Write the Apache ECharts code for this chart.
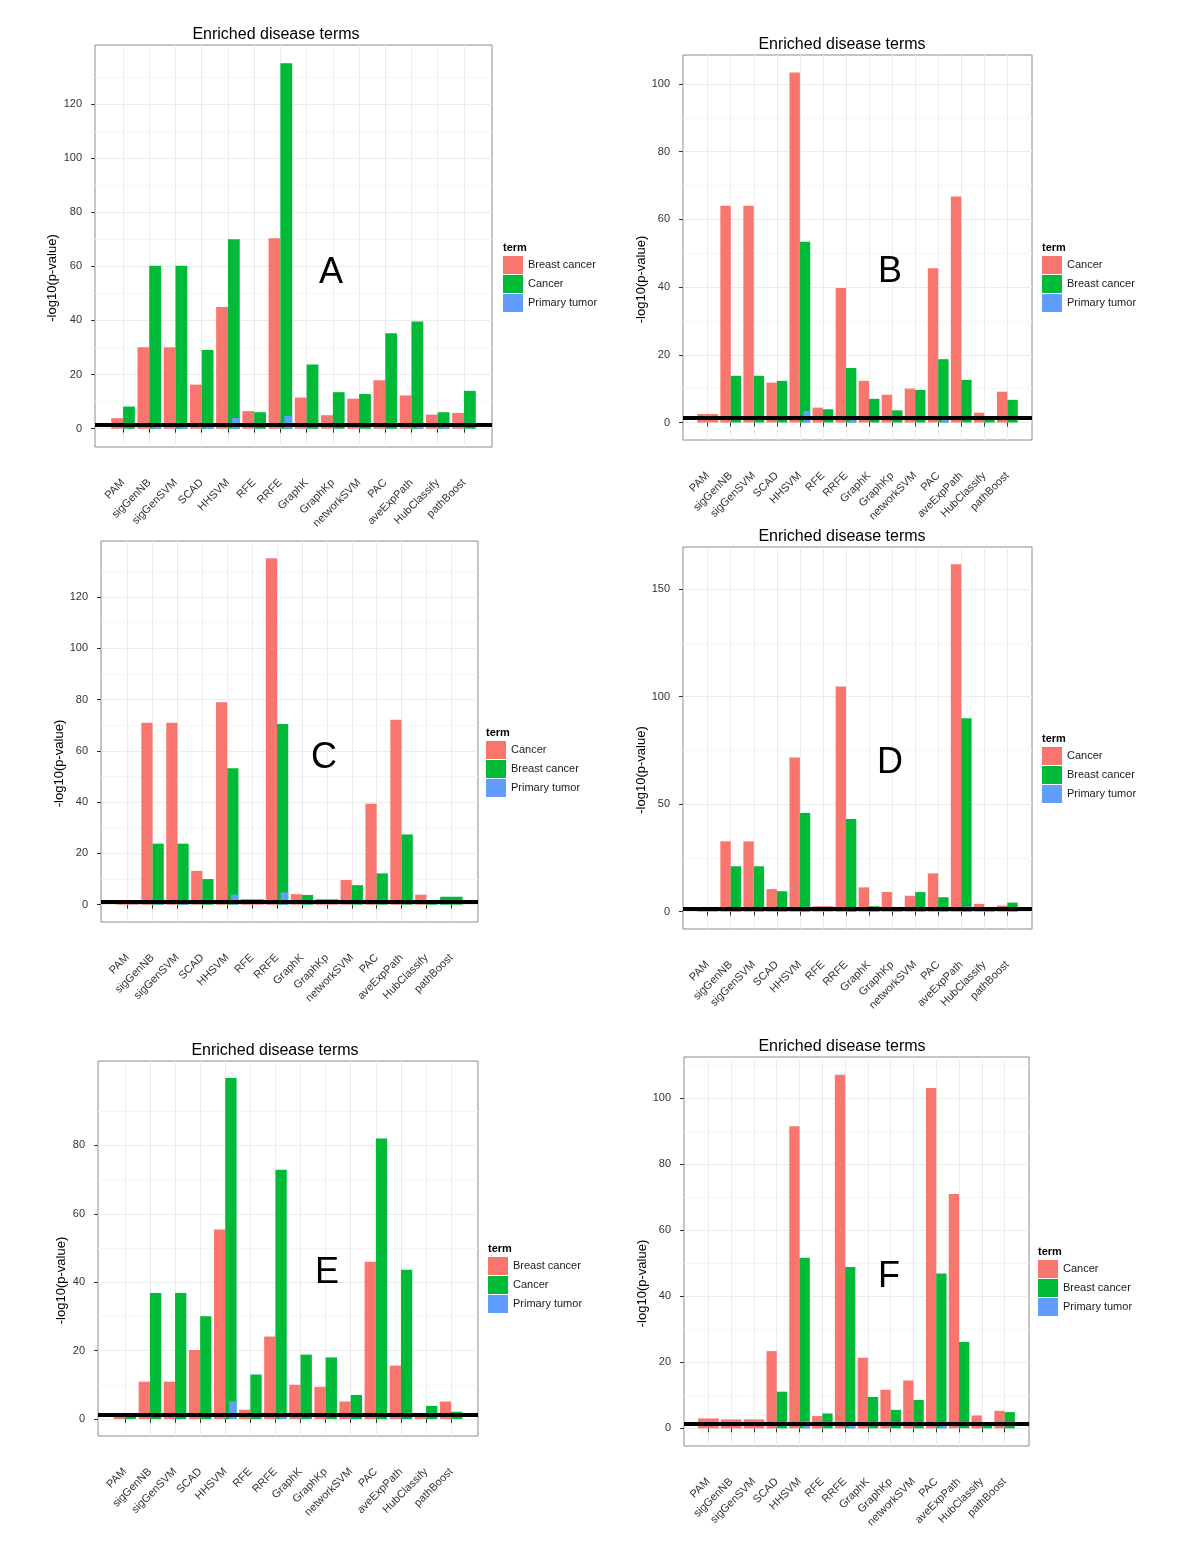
<!DOCTYPE html>
<html><head><meta charset="utf-8">
<script src="https://cdn.jsdelivr.net/npm/echarts@6/dist/echarts.min.js"></script>
<style>html,body{margin:0;padding:0;background:#fff}#c{width:1200px;height:1553px}</style>
</head><body><div id="c"></div>
<script>
// ---------- data ----------
const categories = ['PAM','sigGenNB','sigGenSVM','SCAD','HHSVM','RFE','RRFE','GraphK','GraphKp','networkSVM','PAC','aveExpPath','HubClassify','pathBoost'];
const THRESHOLD = 1.3; // -log10(0.05)
const chartTitle = 'Enriched disease terms';
const yAxisTitle = '-log10(p-value)';
const legendTitle = 'term';

// Panel A  (red = Breast cancer, green = Cancer)
const aTerms = ['Breast cancer','Cancer','Primary tumor'];
const aRed   = [3.9, 30.1, 30.1, 16.3, 45.0, 6.5, 70.4, 11.5, 5.0, 11.1, 17.9, 12.3, 5.2, 5.8];
const aGreen = [8.2, 60.2, 60.2, 29.1, 70.0, 6.1, 135.0, 23.7, 13.5, 12.8, 35.3, 39.6, 6.1, 14.0];
const aBlue  = [0, 2.1, 2.1, 1.2, 3.9, 0, 4.7, 0, 0, 0, 0, 1.2, 2.1, 0];
const aMajor = [0,20,40,60,80,100,120];
const aMinor = [10,30,50,70,90,110,130];

// Panel B  (red = Cancer, green = Breast cancer)
const bTerms = ['Cancer','Breast cancer','Primary tumor'];
const bRed   = [2.5, 64.0, 64.0, 11.8, 103.4, 4.4, 39.7, 12.3, 8.2, 10.0, 45.6, 66.8, 2.9, 9.1];
const bGreen = [null, 13.8, 13.8, 12.3, 53.4, 3.9, 16.1, 7.0, 3.6, 9.6, 18.7, 12.6, 0.8, 6.7];
const bBlue  = [0, 0, 0, 0, 3.4, 0, 1.0, 0, 0, 0, 2.0, 0, 0, 0];
const bMajor = [0,20,40,60,80,100];
const bMinor = [10,30,50,70,90];

// Panel C  (red = Cancer, green = Breast cancer)
const cTerms = ['Cancer','Breast cancer','Primary tumor'];
const cRed   = [0.8, 71.0, 71.0, 13.2, 79.0, 2.2, 135.1, 4.1, 2.2, 9.6, 39.4, 72.1, 3.9, null];
const cGreen = [null, 23.8, 23.8, 10.0, 53.2, null, 70.5, 3.8, null, 7.6, 12.2, 27.4, 1.2, 3.1];
const cBlue  = [0, 0.8, 0.8, 0, 3.9, 0, 4.8, 0, 0, 0, 0, 0, 0, 0];
const cMajor = [0,20,40,60,80,100,120];
const cMinor = [10,30,50,70,90,110,130];

// Panel D  (red = Cancer, green = Breast cancer)
const dTerms = ['Cancer','Breast cancer','Primary tumor'];
const dRed   = [0.6, 32.7, 32.7, 10.5, 71.7, 2.5, 104.8, 11.3, 9.1, 7.4, 17.8, 161.6, 3.6, 2.8];
const dGreen = [null, 21.1, 21.1, 9.5, 45.9, null, 43.1, 2.5, 2.0, 9.1, 6.7, 90.0, 1.1, 4.2];
const dBlue  = [0, 0, 0, 0, 2.3, 0, 0, 0, 0, 0, 0, 2.5, 0, 0];
const dMajor = [0,50,100,150];
const dMinor = [25,75,125];

// Panel E  (red = Breast cancer, green = Cancer)
const eTerms = ['Breast cancer','Cancer','Primary tumor'];
const eRed   = [0.8, 10.9, 10.9, 20.2, 55.4, 2.7, 24.1, 10.0, 9.4, 5.1, 46.0, 15.6, 1.0, 5.1];
const eGreen = [0.8, 36.8, 36.8, 30.0, 99.7, 13.0, 72.9, 18.8, 18.0, 7.0, 82.0, 43.6, 3.8, 2.1];
const eBlue  = [0, 0, 0, 0, 5.2, 0, 1.8, 0, 0, 0, 0, 0, 0, 0];
const eMajor = [0,20,40,60,80];
const eMinor = [10,30,50,70,90];

// Panel F  (red = Cancer, green = Breast cancer)
const fTerms = ['Cancer','Breast cancer','Primary tumor'];
const fRed   = [3.0, 2.7, 2.7, 23.4, 91.6, 3.7, 107.2, 21.4, 11.7, 14.5, 103.2, 71.0, 3.9, 5.3];
const fGreen = [null, null, null, 11.1, 51.7, 4.5, 48.9, 9.5, 5.6, 8.6, 46.9, 26.2, 1.0, 4.9];
const fBlue  = [0, 0, 0, 0, 2.2, 0, 1.0, 0, 0, 0, 1.1, 0, 0, 0];
const fMajor = [0,20,40,60,80,100];
const fMinor = [10,30,50,70,90,110];

// ---------- layout / style ----------
const FONT = "'Liberation Sans', Arial, Helvetica, sans-serif";
const COLORS = ['#F8766D', '#00BA38', '#619CFF'];
const PAD = 1.07; // discrete axis expansion, in category units

const panels = [
  {terms:aTerms, red:aRed, green:aGreen, blue:aBlue, major:aMajor, minor:aMinor, letter:'A', nameGap:36,
   box:{l:95, r:492, t:45, b:447}, title:[276,35], letterPos:[331,273], legendPos:[503,248]},
  {terms:bTerms, red:bRed, green:bGreen, blue:bBlue, major:bMajor, minor:bMinor, letter:'B', nameGap:31,
   box:{l:683, r:1032, t:55, b:440}, title:[842,45], letterPos:[890,272], legendPos:[1042,248]},
  {terms:cTerms, red:cRed, green:cGreen, blue:cBlue, major:cMajor, minor:cMinor, letter:'C', nameGap:32,
   box:{l:101, r:478, t:541, b:922}, title:null, letterPos:[324,758], legendPos:[486,733]},
  {terms:dTerms, red:dRed, green:dGreen, blue:dBlue, major:dMajor, minor:dMinor, letter:'D', nameGap:31,
   box:{l:683, r:1032, t:547, b:929}, title:[842,537], letterPos:[890,763], legendPos:[1042,739]},
  {terms:eTerms, red:eRed, green:eGreen, blue:eBlue, major:eMajor, minor:eMinor, letter:'E', nameGap:30,
   box:{l:98, r:478, t:1061, b:1436}, title:[275,1051], letterPos:[327,1273], legendPos:[488,1249]},
  {terms:fTerms, red:fRed, green:fGreen, blue:fBlue, major:fMajor, minor:fMinor, letter:'F', nameGap:32,
   box:{l:684, r:1029, t:1057, b:1446}, title:[842,1047], letterPos:[889,1277], legendPos:[1038,1252]}
];

const option = {
  animation: false,
  backgroundColor: '#fff',
  textStyle: {fontFamily: FONT},
  grid: [], xAxis: [], yAxis: [], series: [], legend: [], graphic: []
};

const paired = (a, b) => a.map((v, i) => (b[i] == null ? null : v));
const single = (a, b) => a.map((v, i) => (b[i] == null ? v : null));
const nulls = categories.map(() => null);

panels.forEach((p) => {
  const W = p.box.r - p.box.l, H = p.box.b - p.box.t;
  const n = categories.length;
  const s = W / (n - 1 + 2 * PAD);
  const vals = [].concat(p.red, p.green, p.blue).filter(v => v != null);
  const vmax = Math.max.apply(null, vals);
  const ymin = -0.05 * vmax, ymax = 1.05 * vmax;

  const gF = option.grid.length;
  option.grid.push({left: p.box.l, top: p.box.t, width: W, height: H, show: true,
    borderColor: '#8c8c8c', borderWidth: 1, backgroundColor: 'transparent'});
  const gI = gF + 1;
  option.grid.push({left: p.box.l + PAD * s, top: p.box.t, width: s * (n - 1), height: H});

  const xF = option.xAxis.length;
  option.xAxis.push({type: 'value', gridIndex: gF, min: 0, max: 1, show: false});
  option.xAxis.push({type: 'category', gridIndex: gI, data: categories, boundaryGap: false, position: 'bottom',
    axisLine: {show: false},
    axisTick: {show: true, length: 4, lineStyle: {color: '#333'}},
    axisLabel: {interval: 0, rotate: 45, margin: 34, fontSize: 11, color: '#333', fontFamily: FONT, hideOverlap: false},
    splitLine: {show: true, lineStyle: {color: '#ebebeb', width: 1}}});
  option.xAxis.push({type: 'category', gridIndex: gI, data: categories, boundaryGap: false, show: false});
  option.xAxis.push({type: 'category', gridIndex: gI, data: categories, boundaryGap: false, show: false});

  const yF = option.yAxis.length;
  option.yAxis.push({type: 'value', gridIndex: gF, min: ymin, max: ymax, position: 'left',
    name: yAxisTitle, nameLocation: 'middle', nameGap: p.nameGap,
    nameTextStyle: {fontSize: 13, color: '#000', fontFamily: FONT, padding: [0, 64, 0, 0]},
    axisLine: {show: false},
    axisTick: {show: true, length: 4, lineStyle: {color: '#333'}, customValues: p.major},
    axisLabel: {customValues: p.major, fontSize: 11, color: '#333', margin: 13, fontFamily: FONT},
    splitLine: {show: true, lineStyle: {color: '#ebebeb', width: 1}}});
  option.yAxis.push({type: 'value', gridIndex: gF, min: ymin, max: ymax, position: 'right',
    axisLine: {show: false},
    axisTick: {show: false, customValues: p.minor},
    axisLabel: {show: false, customValues: p.minor},
    splitLine: {show: true, lineStyle: {color: '#f5f5f5', width: 1}}});
  option.yAxis.push({type: 'value', gridIndex: gI, min: ymin, max: ymax, show: false});

  // paired red/green bars
  option.series.push({type: 'bar', name: p.terms[0], xAxisIndex: xF + 1, yAxisIndex: yF + 2,
    data: paired(p.red, p.green), barWidth: '45%', barGap: '0%', clip: false,
    itemStyle: {color: COLORS[0]}, z: 2});
  option.series.push({type: 'bar', name: p.terms[1], xAxisIndex: xF + 1, yAxisIndex: yF + 2,
    data: paired(p.green, p.red), barWidth: '45%', barGap: '0%', clip: false,
    itemStyle: {color: COLORS[1]}, z: 2});
  // single-term categories: full-width bars
  option.series.push({type: 'bar', name: p.terms[0], xAxisIndex: xF + 3, yAxisIndex: yF + 2,
    data: single(p.red, p.green), barWidth: '90%', barGap: '-100%', clip: false,
    itemStyle: {color: COLORS[0]}, z: 2});
  option.series.push({type: 'bar', name: p.terms[1], xAxisIndex: xF + 3, yAxisIndex: yF + 2,
    data: single(p.green, p.red), barWidth: '90%', barGap: '-100%', clip: false,
    itemStyle: {color: COLORS[1]}, z: 2});
  // primary tumor: third dodge slot
  option.series.push({type: 'bar', xAxisIndex: xF + 2, yAxisIndex: yF + 2, data: nulls,
    barWidth: '30%', barGap: '0%', clip: false});
  option.series.push({type: 'bar', xAxisIndex: xF + 2, yAxisIndex: yF + 2, data: nulls,
    barWidth: '30%', barGap: '0%', clip: false});
  option.series.push({type: 'bar', name: p.terms[2], xAxisIndex: xF + 2, yAxisIndex: yF + 2,
    data: p.blue, barWidth: '30%', barGap: '0%', clip: false,
    itemStyle: {color: COLORS[2]}, z: 3});
  // significance threshold line across the panel
  option.series.push({type: 'line', xAxisIndex: xF, yAxisIndex: yF, data: [], silent: true,
    markLine: {silent: true, symbol: 'none', animation: false, label: {show: false},
      lineStyle: {color: '#000', width: 4, type: 'solid'},
      data: [{yAxis: THRESHOLD}]}});

  option.legend.push({orient: 'vertical', left: p.legendPos[0], top: p.legendPos[1] + 8, padding: 0,
    itemWidth: 20, itemHeight: 18, itemGap: 1, icon: 'rect', selectedMode: false,
    textStyle: {fontSize: 11, color: '#1a1a1a', fontFamily: FONT},
    data: p.terms.map((t, i) => ({name: t, itemStyle: {color: COLORS[i]}}))});

  option.graphic.push({type: 'text', x: p.legendPos[0], y: p.legendPos[1], z: 100,
    style: {text: legendTitle, fontSize: 11, fontWeight: 'bold', fontFamily: FONT, fill: '#000',
      align: 'left', verticalAlign: 'middle'}});
  option.graphic.push({type: 'text', x: p.letterPos[0], y: p.letterPos[1], z: 100,
    style: {text: p.letter, fontSize: 36, fontFamily: FONT, fill: '#000',
      align: 'center', verticalAlign: 'middle'}});
  if (p.title) {
    option.graphic.push({type: 'text', x: p.title[0], y: p.title[1], z: 100,
      style: {text: chartTitle, fontSize: 16, fontFamily: FONT, fill: '#000',
        align: 'center', verticalAlign: 'middle'}});
  }
});

const chart = echarts.init(document.getElementById('c'), null, {renderer: 'canvas'});
chart.setOption(option);
</script>
</body></html>
